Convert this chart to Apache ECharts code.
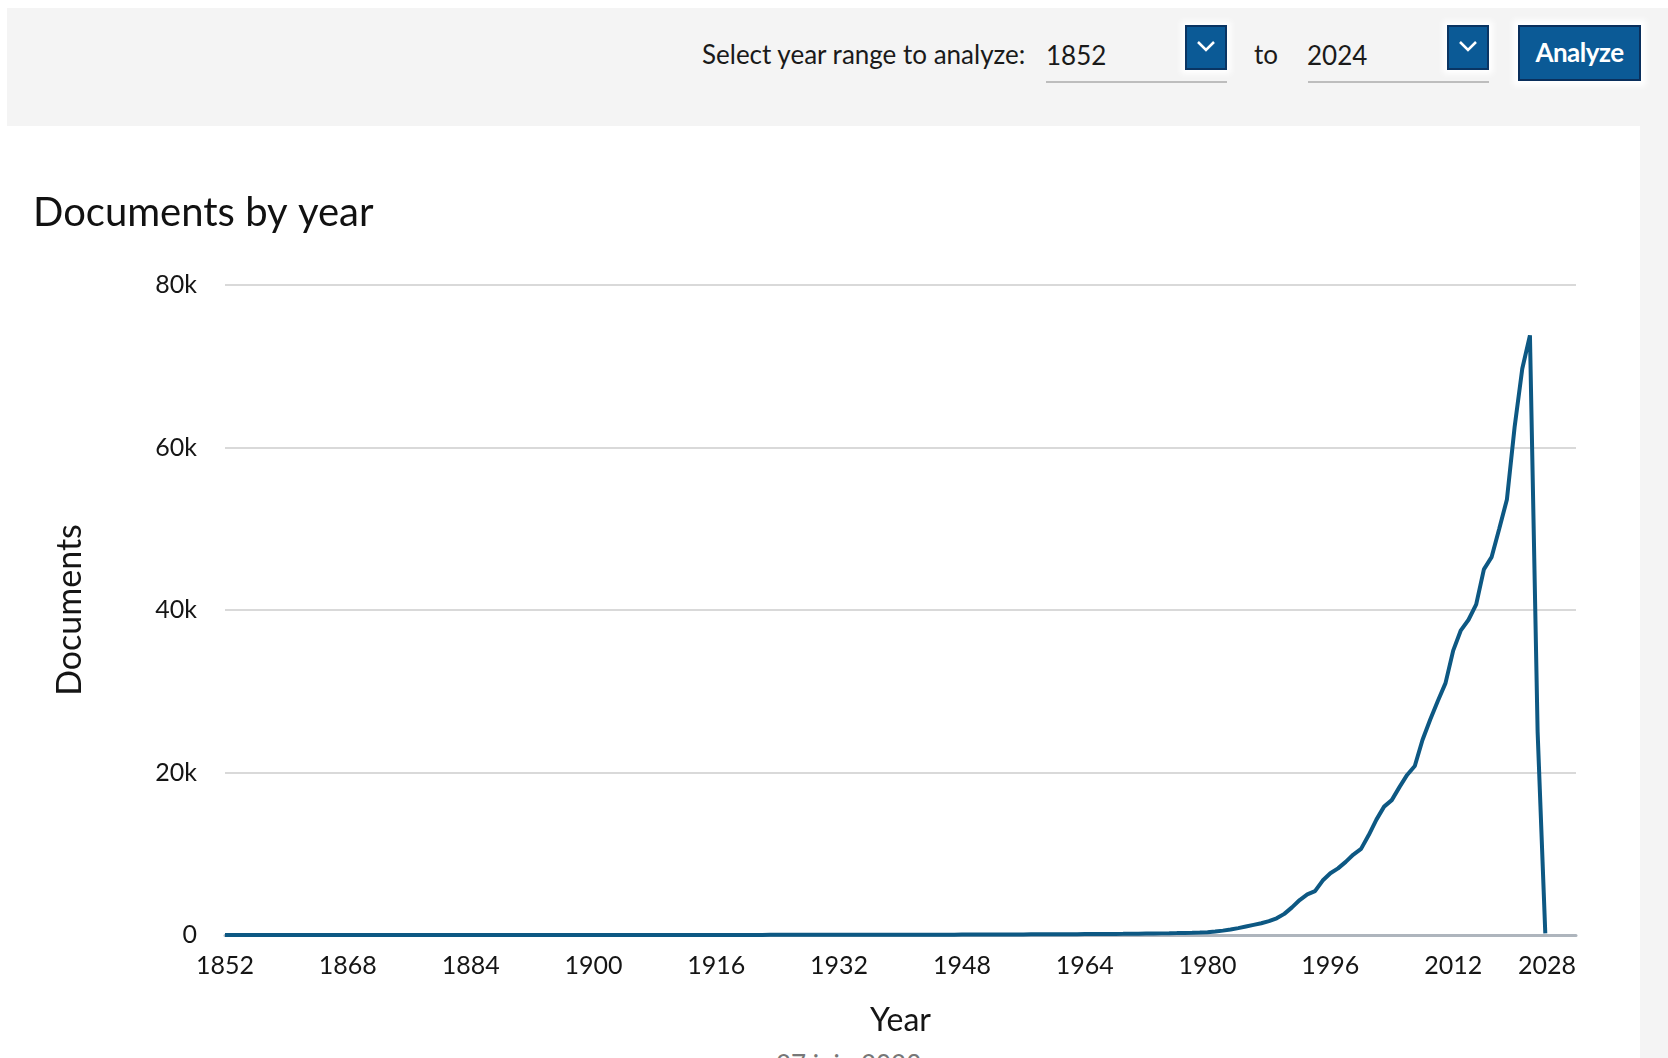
<!DOCTYPE html>
<html>
<head>
<meta charset="utf-8">
<script src="https://cdn.jsdelivr.net/npm/echarts@6/dist/echarts.min.js"></script>
<style>
  html, body { margin:0; padding:0; width:1668px; height:1058px; overflow:hidden; background:#ffffff; font-family: Lato, "Noto Sans", sans-serif; }
  #band { position:absolute; left:7px; top:8px; width:1661px; height:118px; background:#f4f4f4; }
  #side { position:absolute; left:1640px; top:126px; width:28px; height:932px; background:#f4f4f4; }
  .t { position:absolute; font-size:26px; line-height:normal; color:#1a1a1a; white-space:nowrap; }
  .ul { position:absolute; height:2px; background:#bdbdbd; top:81px; width:181px; }
  .dd { position:absolute; top:25px; width:38px; height:41px; background:#0b5a96; border:2px solid #0a3563; box-shadow:0 0 6px 4px #ffffff; }
  .dd svg { position:absolute; left:9px; top:12px; }
  #analyze { position:absolute; left:1518px; top:25px; width:119px; height:52px; background:#0b5a96; border:2px solid #0a2f5c; box-shadow:0 0 6px 5px #ffffff; color:#fff; font-weight:bold; font-size:26px; text-align:center; line-height:50px; letter-spacing:-0.5px; }
  #chart { position:absolute; left:0; top:0; width:1668px; height:1058px; }
  #foot { position:absolute; left:776px; top:1048px; font-size:26px; color:#777; white-space:nowrap; }
</style>
</head>
<body>
<div id="band"></div>
<div id="side"></div>
<div class="t" style="left:702px; top:38px;">Select year range to analyze:</div>
<div class="t" style="left:1046px; top:39px;">1852</div>
<div class="ul" style="left:1046px;"></div>
<div class="dd" style="left:1185px;"><svg width="20" height="14" viewBox="0 0 20 14"><polyline points="2,3 10,11 18,3" fill="none" stroke="#fff" stroke-width="2.5"/></svg></div>
<div class="t" style="left:1254px; top:38px;">to</div>
<div class="t" style="left:1307px; top:39px;">2024</div>
<div class="ul" style="left:1308px;"></div>
<div class="dd" style="left:1447px;"><svg width="20" height="14" viewBox="0 0 20 14"><polyline points="2,3 10,11 18,3" fill="none" stroke="#fff" stroke-width="2.5"/></svg></div>
<div id="analyze">Analyze</div>
<div id="foot">27 juin 2023</div>
<div id="chart"></div>
<script>
// ---- data ----
const firstYear = 1852;
const lastYear = 2024;
const docs1852_1899 = [0,0,0,0,0,1,0,0,
  0,0,1,0,0,0,1,0,0,1,
  0,1,0,1,1,0,1,0,2,1,
  1,2,1,1,2,3,1,2,2,3,
  2,3,3,2,4,3,4,5,4,5];
const docs1900_1949 = [5,6,4,7,6,8,7,9,8,10,
  9,11,12,10,9,7,6,8,10,12,
  13,14,15,17,16,18,20,19,22,24,
  25,27,26,29,31,33,32,35,37,36,
  34,30,28,27,33,38,42,46,50,53];
const docs1950_1979 = [56,58,61,64,67,70,74,78,82,86,
  90,95,100,106,112,118,124,131,138,146,
  155,165,176,188,200,215,232,252,275,300];
const docs1980_2009 = [350,430,540,680,850,1050,1250,1450,1700,2050,
  2600,3400,4300,5000,5400,6700,7600,8200,9000,9900,
  10600,12300,14200,15800,16600,18200,19700,20800,24000,26500];
const docs2010_2024 = [28800,31000,35000,37500,38800,40700,45000,46500,50000,53600,
  62500,69700,73800,25000,200];
const documents = [].concat(docs1852_1899, docs1900_1949, docs1950_1979, docs1980_2009, docs2010_2024);
const years = [];
for (let y = firstYear; y <= lastYear; y++) years.push(y);

const xMin = 1852, xMax = 2028, xStep = 16;
const yMin = 0, yMax = 80000, yStep = 20000;

const seriesData = years.map((y, i) => [y, documents[i]]);

const chart = echarts.init(document.getElementById('chart'), null, { renderer: 'canvas' });
const txt = '#151515';
chart.setOption({
  animation: false,
  backgroundColor: 'transparent',
  title: {
    text: 'Documents by year',
    left: 28, top: 188,
    textStyle: { fontFamily: 'Lato', fontSize: 40, fontWeight: 'normal', color: '#111' }
  },
  grid: { left: 225, right: 92, top: 285, bottom: 123 },
  xAxis: {
    type: 'value', min: xMin, max: xMax, interval: xStep,
    name: 'Year', nameLocation: 'middle', nameGap: 70,
    nameTextStyle: { fontFamily: 'Lato', fontSize: 32, color: txt },
    axisLine: { show: true, onZero: false, lineStyle: { color: '#aeb5bd', width: 3 } },
    axisTick: { show: false },
    splitLine: { show: false },
    axisLabel: { fontFamily: 'Lato', fontSize: 25, color: txt, margin: 18, alignMaxLabel: 'right', formatter: v => String(v) }
  },
  yAxis: {
    type: 'value', min: yMin, max: yMax, interval: yStep,
    name: 'Documents', nameLocation: 'middle', nameGap: 138,
    nameTextStyle: { fontFamily: 'Lato', fontSize: 34, color: txt },
    axisLine: { show: false }, axisTick: { show: false },
    splitLine: { lineStyle: { color: '#d9d9d9', width: 2 } },
    axisLabel: { fontFamily: 'Lato', fontSize: 25, color: txt, margin: 28, formatter: v => v === 0 ? '0' : (v / 1000) + 'k' }
  },
  series: [{
    type: 'line', data: seriesData, showSymbol: false, symbol: 'none',
    lineStyle: { color: '#0d5883', width: 4 }, itemStyle: { color: '#0d5883' }
  }]
});
</script>
</body>
</html>
